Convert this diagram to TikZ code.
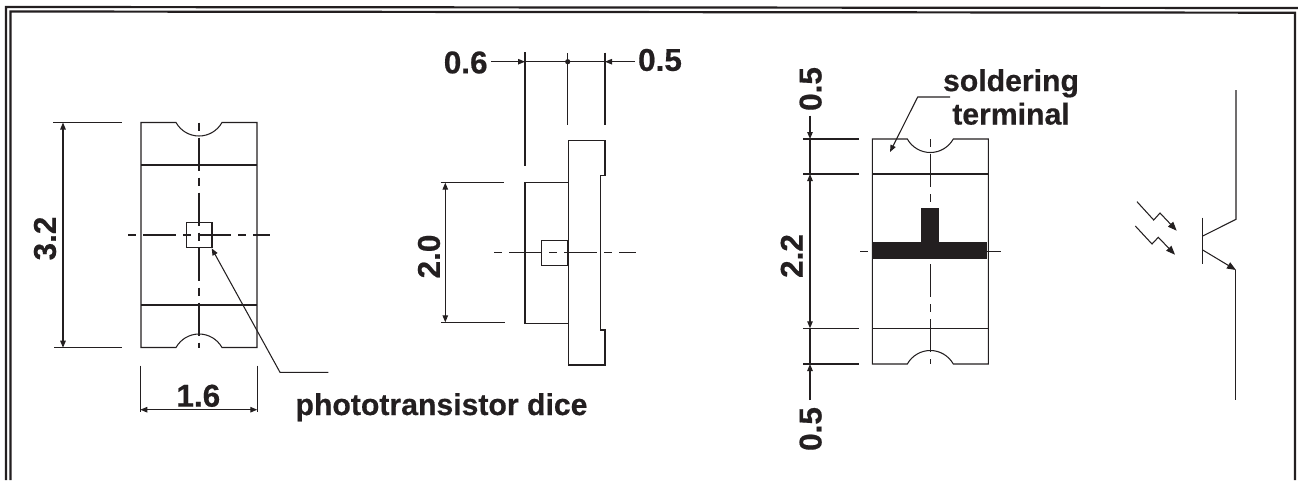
\documentclass[tikz,border=0pt]{standalone}
\usepackage{fontspec}
\setmainfont[BoldFeatures={FakeBold=0.5}]{Liberation Sans}
\usetikzlibrary{arrows.meta}
\definecolor{ink}{HTML}{231F20}

\begin{document}
\begin{tikzpicture}[x=1pt,y=-1pt,line width=1.05pt,draw=ink]
    \tikzstyle{frameline} = [line width=2.2pt]
    \tikzstyle{centerline} = [line width=1.05pt,dash pattern=on 8pt off 7pt on 33pt off 7pt]
    \tikzstyle{tipped} = [-{Triangle[length=7pt,width=5.5pt]}]
    \tikzstyle{bothtip} = [{Triangle[length=7pt,width=5.5pt]}-{Triangle[length=7pt,width=5.5pt]}]
    \tikzstyle{bigtip} = [-{Triangle[length=9pt,width=7pt]}]
    \tikzstyle{ann} = [draw=none,fill=none,inner sep=0pt,text=ink,font=\bfseries\fontsize{30.2}{33.5}\selectfont,align=center]
    \tikzstyle{dimtext} = [ann,font=\bfseries\fontsize{31.5}{33.5}\selectfont]
    \useasboundingbox (0,0) rectangle (1298,480);

    % frame
    \draw[frameline] (6,480) -- (6,7) -- (1298,8);
    \draw[frameline] (10.5,480) -- (10.5,11.5) -- (1295,12.7) -- (1295,480);

    % top views
    \foreach \vx/\vy/\va/\vb in {141/122.5/42.5/182.5, 872.3/139/35/189.3} {
        \begin{scope}[shift={(\vx,\vy)}]
        \draw[centerline] (58,0) -- (58,225);
        \draw (0,0) -- (35,0) .. controls (39.7,8.3) and (48.4,13.5) .. (58,13.5)
            .. controls (67.6,13.5) and (76.3,8.3) .. (81,0) -- (116,0) -- (116,225) -- (81,225)
            .. controls (76.3,216.7) and (67.6,211.5) .. (58,211.5)
            .. controls (48.4,211.5) and (39.7,216.7) .. (35,225) -- (0,225) -- cycle;
        \draw (0,\va) -- (116,\va);
        \draw (0,\vb) -- (116,\vb);
        \end{scope}
    }

    % left view
    \draw[centerline] (128.3,235) -- (270,235);
    \draw (186.3,222.7) rectangle (212,247.7);
    \coordinate (dimTopA) at (63,122.5);
    \coordinate (dimTopB) at (63,347.7);
    \coordinate (dimWideA) at (140.3,409.7);
    \coordinate (dimWideB) at (257.3,409.7);
    \draw (53,122.5) -- (122,122.5);
    \draw (54,347.7) -- (122,347.7);
    \draw (140.3,365.7) -- (140.3,411.7);
    \draw (257.3,365.7) -- (257.3,411.7);
    \draw[bothtip] (dimTopA) -- (dimTopB);
    \draw[bothtip] (dimWideA) -- (dimWideB);
    \node[dimtext,rotate=90] (lblHeight) at (45,238.5) {3.2};
    \node[dimtext] (lblWidth) at (198.3,395.8) {1.6};
    \node[ann,anchor=base west] (lblDice) at (295,415) {phototransistor dice};
    \coordinate (diceKnee) at (280,372.3);
    \coordinate (diceEnd) at (328.3,372.3);
    \coordinate (diceTip) at (211.7,248.3);
    \draw[tipped] (diceEnd) -- (diceKnee) -- (diceTip);

    % side view
    \draw[centerline] (494.3,252.7) -- (636,252.7);
    \draw (525,182.7) rectangle (568.3,323.3);
    \draw (541.7,240.7) rectangle (568,265.7);
    \draw (568.7,140.7) -- (605,140.7) -- (605,175.7) -- (600.7,175.7) -- (600.7,330)
        -- (605,330) -- (605,365) -- (568.7,365) -- cycle;
    \draw (525,52) -- (525,165.7);
    \draw (567.7,53) -- (567.7,124.7);
    \draw (605,52.7) -- (605,125);
    \coordinate (gapA) at (525,61.7);
    \coordinate (gapB) at (605,61.7);
    \coordinate (gapC) at (567.7,61.7);
    \node[dimtext] (lblGapA) at (465.7,62.5) {0.6};
    \node[dimtext] (lblGapB) at (660,60) {0.5};
    \draw[tipped] (491,61.7) -- (gapA);
    \draw[tipped] (635,61.7) -- (gapB);
    \draw (gapA) -- (gapB);
    \fill[ink] (gapC) circle (2.6);
    \draw (440.7,182.7) -- (504,182.7);
    \draw (441,322.3) -- (504.7,322.3);
    \coordinate (dimBodyA) at (445.3,182.7);
    \coordinate (dimBodyB) at (445.3,322.3);
    \draw[bothtip] (dimBodyA) -- (dimBodyB);
    \node[dimtext,rotate=90] (lblBody) at (429,256.5) {2.0};

    % bottom view
    \draw[centerline] (860,251.3) -- (1000.7,251.3);
    \fill[ink] (872.3,241.7) rectangle (987.3,259.3);
    \fill[ink] (920.7,208.3) rectangle (939,241.7);
    \foreach \py in {139,174,328.3,364} {
        \draw (803,\py) -- (859,\py);
    }
    \coordinate (padA) at (810,139);
    \coordinate (padB) at (810,174);
    \coordinate (padC) at (810,328.3);
    \coordinate (padD) at (810,364);
    \draw[tipped] (810,115.7) -- (padA);
    \draw (padA) -- (padB);
    \draw[bothtip] (padB) -- (padC);
    \draw (padC) -- (padD);
    \draw[tipped] (810,400) -- (padD);
    \node[dimtext,rotate=90] (lblPadA) at (810.6,89) {0.5};
    \node[dimtext,rotate=90] (lblPadMid) at (791.7,256) {2.2};
    \node[dimtext,rotate=90] (lblPadB) at (810.6,429) {0.5};
    \node[ann] (lblSolder) at (1011,97) {soldering\\terminal};
    \coordinate (solderEnd) at (950,97);
    \coordinate (solderKnee) at (917.7,97);
    \coordinate (solderTip) at (890,152);
    \draw[tipped] (solderEnd) -- (solderKnee) -- (solderTip);

    % symbol
    \draw[line width=1.5pt] (1202.7,217.7) -- (1202.7,264.3);
    \draw (1202.7,236) -- (1236,219.3) -- (1236,90);
    \draw[bigtip] (1202.7,250) -- (1236,270);
    \draw (1235.7,270) -- (1235.7,400);
    \draw[bigtip] (1137,201.7) -- (1153.7,220) -- (1160,213) -- (1176.7,230.7);
    \draw[bigtip] (1135.3,226) -- (1152,244) -- (1158.3,237.3) -- (1175,254.7);
\end{tikzpicture}
\end{document}
